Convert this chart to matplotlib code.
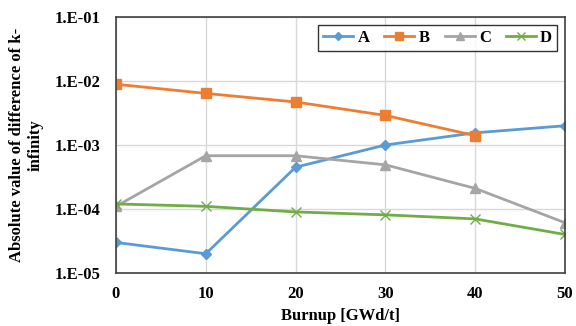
import matplotlib
matplotlib.use("Agg")
import matplotlib.pyplot as plt
from matplotlib.ticker import FixedLocator, NullLocator

burnup = [0, 10, 20, 30, 40, 50]
series_a = [3.0e-5, 2.0e-5, 4.5e-4, 1.0e-3, 1.55e-3, 2.0e-3]
series_b = [8.9e-3, 6.4e-3, 4.7e-3, 2.9e-3, 1.4e-3]
series_c = [1.1e-4, 6.8e-4, 6.8e-4, 4.9e-4, 2.1e-4, 6.1e-5]
series_d = [1.2e-4, 1.1e-4, 9.0e-5, 8.1e-5, 7.0e-5, 4.0e-5]
y_ticks = [1e-5, 1e-4, 1e-3, 1e-2, 1e-1]
y_labels = ["1.E-05", "1.E-04", "1.E-03", "1.E-02", "1.E-01"]

plt.rcParams["font.family"] = ["Liberation Serif", "DejaVu Serif"]
plt.rcParams["font.weight"] = "bold"

fig = plt.figure(figsize=(5.76, 3.26), dpi=100)
ax = fig.add_axes([116 / 576, 1 - 273 / 326, (565 - 116) / 576, (273 - 17) / 326])

ax.plot(burnup, series_a, color="#5B9BD5", marker="D", markersize=5, linewidth=2, label="A")
ax.plot(burnup[:len(series_b)], series_b, color="#ED7D31", marker="s", markersize=7, linewidth=2, label="B")
ax.plot(burnup, series_c, color="#A5A5A5", marker="^", markersize=7, linewidth=2, label="C")
ax.plot(burnup, series_d, color="#70AD47", marker="x", markersize=7, markeredgewidth=1, linewidth=2, label="D")

ax.set_yscale("log")
ax.set_ylim(1e-5, 1e-1)
ax.set_xlim(0, 50)
ax.yaxis.set_major_locator(FixedLocator(y_ticks))
ax.yaxis.set_minor_locator(NullLocator())
ax.set_yticklabels(y_labels)
ax.set_xticks(burnup)
ax.tick_params(axis="y", length=0, labelsize=12, pad=11)
ax.tick_params(axis="x", length=0, labelsize=12, pad=9)
for lab in ax.get_xticklabels() + ax.get_yticklabels():
    lab.set_fontweight("bold")

ax.grid(True, color="#D9D9D9", linewidth=1)
ax.set_axisbelow(True)
for spine in ax.spines.values():
    spine.set_color("#404040")
    spine.set_linewidth(1.2)

ax.set_xlabel("Burnup [GWd/t]", fontsize=12, fontweight="bold", labelpad=5)
ax.set_ylabel("Absolute value of difference of k-\ninfinity", fontsize=12,
              fontweight="bold", labelpad=8, linespacing=1.2)

leg = ax.legend(loc="upper right", ncol=4, fontsize=12, frameon=True, fancybox=False,
                edgecolor="black", borderpad=0.3, handlelength=1.8, columnspacing=0.9,
                handletextpad=0.25, markerscale=0.85, borderaxespad=0,
                bbox_to_anchor=(0.982, 0.969))
leg.get_frame().set_linewidth(1.0)
for t in leg.get_texts():
    t.set_fontweight("bold")

fig.savefig("out.png", dpi=100)
